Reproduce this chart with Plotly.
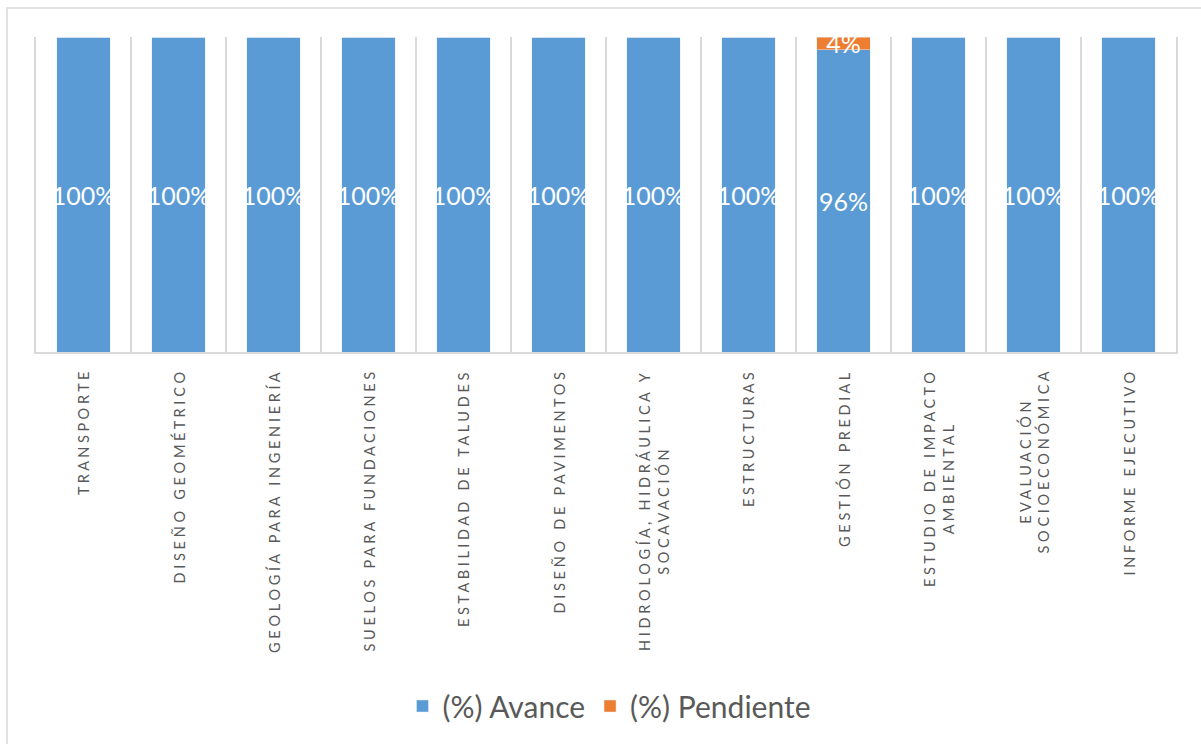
import plotly.graph_objects as go

# ---- data ----
categories = [
    "TRANSPORTE",
    "DISEÑO GEOMÉTRICO",
    "GEOLOGÍA PARA INGENIERÍA",
    "SUELOS PARA FUNDACIONES",
    "ESTABILIDAD DE TALUDES",
    "DISEÑO DE PAVIMENTOS",
    "HIDROLOGÍA, HIDRÁULICA Y\nSOCAVACIÓN",
    "ESTRUCTURAS",
    "GESTIÓN PREDIAL",
    "ESTUDIO DE IMPACTO\nAMBIENTAL",
    "EVALUACIÓN\nSOCIOECONÓMICA",
    "INFORME EJECUTIVO",
]
avance = [100, 100, 100, 100, 100, 100, 100, 100, 96, 100, 100, 100]
pendiente = [0, 0, 0, 0, 0, 0, 0, 0, 4, 0, 0, 0]
series_names = ["(%) Avance", "(%) Pendiente"]

# ---- style ----
BLUE = "#5B9BD5"
ORANGE = "#ED7D31"
GRID = "#D9D9D9"
TXT = "#595959"
FONT = "Lato"
W, H = 1201, 744
ML, MR, MT, MB = 36, 25, 37, 392
PW, PH = W - ML - MR, H - MT - MB

NB = "\u00a0"


def spaced(label):
    lines = []
    for line in label.split("\n"):
        words = [NB.join(list(w)) for w in line.split(" ")]
        lines.append((NB * 3).join(words))
    return "<br>".join(lines)


xcats = [c.replace("\n", " ") for c in categories]


def px_to_paper_x(px):
    return (px - ML) / PW


def px_to_paper_y(py):
    return (H - MB - py) / PH


fig = go.Figure()
fig.add_trace(go.Bar(
    x=xcats, y=avance, name=series_names[0],
    marker=dict(color=BLUE),
    text=[f"{v}%" if v > 0 else "" for v in avance],
    textposition="inside", insidetextanchor="middle", textangle=0,
    constraintext="none", cliponaxis=False,
    textfont=dict(color="white", size=25, family=FONT),
    hoverinfo="skip",
))
fig.add_trace(go.Bar(
    x=xcats, y=pendiente, name=series_names[1],
    marker=dict(color=ORANGE),
    text=[f"{v}%" if v > 0 else "" for v in pendiente],
    textposition="inside", insidetextanchor="middle", textangle=0,
    constraintext="none", cliponaxis=False,
    textfont=dict(color="white", size=25, family=FONT),
    hoverinfo="skip",
))

annotations = []
for xc, c in zip(xcats, categories):
    annotations.append(dict(
        x=xc, xref="x", y=px_to_paper_y(H - MB + 18), yref="paper",
        text=spaced(c), textangle=-90, showarrow=False,
        xanchor="center", yanchor="top", align="center",
        font=dict(family=FONT, size=14.5, color=TXT),
    ))

fig.update_layout(
    width=W, height=H,
    margin=dict(l=ML, r=MR, t=MT, b=MB, pad=0),
    barmode="stack", bargap=0.44,
    plot_bgcolor="white", paper_bgcolor="white",
    font=dict(family=FONT, color=TXT),
    showlegend=True,
    legend=dict(
        orientation="h", x=px_to_paper_x(609), xanchor="center",
        y=px_to_paper_y(706), yanchor="middle",
        font=dict(family=FONT, size=30, color=TXT),
        traceorder="normal", itemclick=False, itemwidth=30,
    ),
    annotations=annotations,
    shapes=[dict(
        type="rect", xref="paper", yref="paper",
        x0=px_to_paper_x(7), x1=px_to_paper_x(1215),
        y0=px_to_paper_y(760), y1=px_to_paper_y(8),
        line=dict(color=GRID, width=1.5), fillcolor="rgba(0,0,0,0)",
        layer="below",
    )],
)
fig.update_xaxes(
    type="category", range=[-0.5, len(xcats) - 0.5],
    showticklabels=False, ticks="", tickson="boundaries",
    showgrid=True, gridcolor=GRID, gridwidth=2,
    showline=True, linecolor=GRID, linewidth=2,
)
fig.update_yaxes(
    range=[0, 100], showticklabels=False, ticks="",
    showgrid=False, zeroline=False,
    showline=True, linecolor=GRID, linewidth=2, mirror=True,
)

fig.write_html("out.html", config={"displayModeBar": False},
               post_script="document.body.style.margin='0';")
